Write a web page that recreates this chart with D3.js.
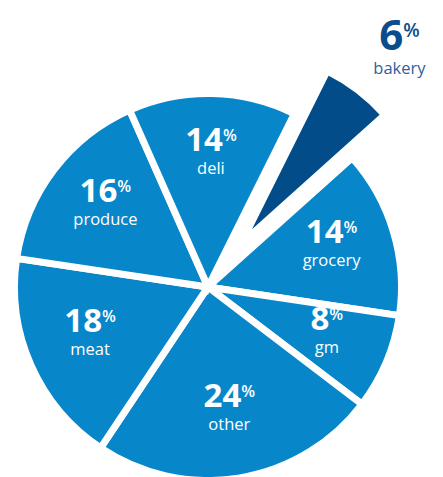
<!DOCTYPE html>
<html><head><meta charset="utf-8">
<script src="https://cdn.jsdelivr.net/npm/d3@7"></script>
<style>html,body{margin:0;padding:0;background:#fff;}svg{display:block;}</style>
</head><body>
<svg id="chart" width="443" height="477"></svg>
<script>
const categories = ["bakery", "grocery", "gm", "other", "meat", "produce", "deli"];
const values = [6, 14, 8, 24, 18, 16, 14];
const highlighted = ["bakery"];

const W = 443, H = 477;
const cx = 208, cy = 287, R = 190;
const startDeg = 26.5;
const explode = 54;
const lightBlue = "#0786c9", darkBlue = "#024c8a";

const data = categories.map((c, i) => ({ name: c, value: values[i] }));
const svg = d3.select("#chart");
const g = svg.append("g").attr("transform", `translate(${cx},${cy})`);

const start = startDeg * Math.PI / 180;
const pie = d3.pie().value(d => d.value).sort(null)
  .startAngle(start).endAngle(start + 2 * Math.PI);
const arcs = pie(data);
const arc = d3.arc().innerRadius(0).outerRadius(R + 3.5);
const labelArc = d3.arc().innerRadius(129).outerRadius(129);
const outLabelArc = d3.arc().innerRadius(306).outerRadius(306);

const isHi = d => highlighted.includes(d.data.name);
const offset = d => {
  if (!isHi(d)) return [0, 0];
  const a = (d.startAngle + d.endAngle) / 2;
  return [explode * Math.sin(a), -explode * Math.cos(a)];
};

g.selectAll("path.slice").data(arcs).join("path")
  .attr("class", "slice")
  .attr("d", arc)
  .attr("transform", d => `translate(${offset(d)})`)
  .attr("fill", d => isHi(d) ? darkBlue : lightBlue)
  .attr("stroke", "#fff")
  .attr("stroke-width", 7)
  .attr("stroke-linejoin", "miter");

const labels = g.selectAll("g.lab").data(arcs).join("g")
  .attr("class", "lab")
  .attr("transform", d => {
    const p = isHi(d) ? outLabelArc.centroid(d) : labelArc.centroid(d);
    return `translate(${isHi(d) ? [p[0] + 6, p[1] + 6] : p})`;
  });

const num = labels.append("text")
  .attr("text-anchor", "middle")
  .attr("y", d => isHi(d) ? 0 : -7)
  .attr("font-family", "'Open Sans', sans-serif")
  .attr("fill", d => isHi(d) ? "#0b4c8c" : "#fff");
num.append("tspan")
  .attr("font-weight", 700)
  .attr("font-size", d => isHi(d) ? 42 : 33)
  .text(d => d.data.value);
num.append("tspan")
  .attr("font-weight", 600)
  .attr("font-size", d => isHi(d) ? 19 : 16)
  .attr("dy", d => isHi(d) ? -13 : -10)
  .text("%");

labels.append("text")
  .attr("text-anchor", "middle")
  .attr("y", d => isHi(d) ? 24 : 16)
  .attr("font-family", "'Open Sans', sans-serif")
  .attr("font-weight", 400)
  .attr("font-size", 16.5)
  .attr("fill", d => isHi(d) ? "#2e62a0" : "#fff")
  .text(d => d.data.name);
</script>
</body></html>
